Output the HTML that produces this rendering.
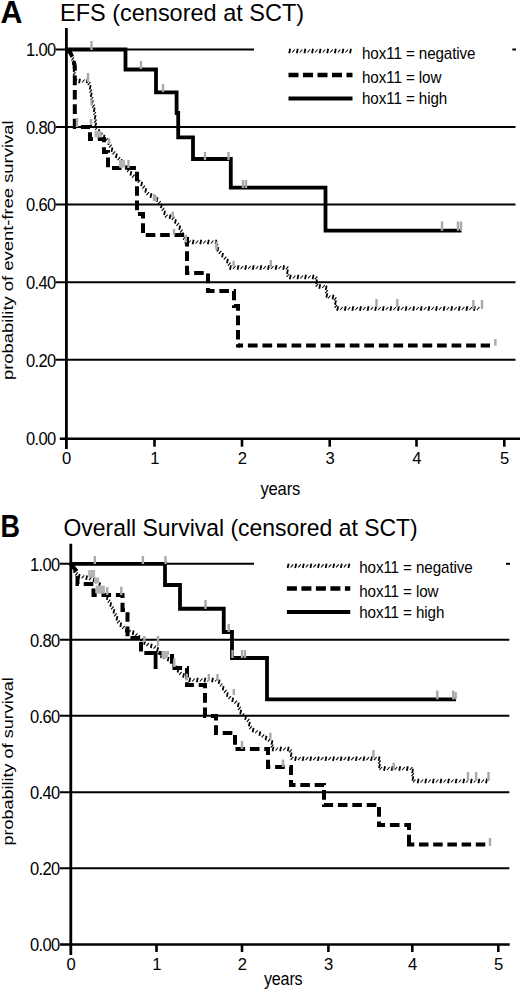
<!DOCTYPE html>
<html><head><meta charset="utf-8"><style>
html,body{margin:0;padding:0;background:#fff;}
body{width:520px;height:989px;overflow:hidden;}
svg{display:block;}
text{font-family:"Liberation Sans", sans-serif;fill:#000;}
</style></head><body>
<svg width="520" height="989" viewBox="0 0 520 989">
<rect width="520" height="989" fill="#fff"/>
<line x1="55.6" y1="49.5" x2="254" y2="49.5" stroke="#000" stroke-width="2"/>
<line x1="512.3" y1="49.5" x2="516" y2="49.5" stroke="#000" stroke-width="2"/>
<line x1="55.6" y1="127" x2="515.5" y2="127" stroke="#000" stroke-width="2"/>
<line x1="55.6" y1="204.5" x2="515.5" y2="204.5" stroke="#000" stroke-width="2"/>
<line x1="55.6" y1="282.3" x2="515.5" y2="282.3" stroke="#000" stroke-width="2"/>
<line x1="55.6" y1="359.7" x2="515.5" y2="359.7" stroke="#000" stroke-width="2"/>
<line x1="59.8" y1="438.7" x2="520" y2="438.7" stroke="#000" stroke-width="2.6"/>
<line x1="66.4" y1="28" x2="66.4" y2="449" stroke="#000" stroke-width="2.8"/>
<line x1="154.5" y1="438.7" x2="154.5" y2="446.7" stroke="#000" stroke-width="2.6"/>
<line x1="242" y1="438.7" x2="242" y2="446.7" stroke="#000" stroke-width="2.6"/>
<line x1="329.7" y1="438.7" x2="329.7" y2="446.7" stroke="#000" stroke-width="2.6"/>
<line x1="416.5" y1="438.7" x2="416.5" y2="446.7" stroke="#000" stroke-width="2.6"/>
<line x1="504.3" y1="438.7" x2="504.3" y2="446.7" stroke="#000" stroke-width="2.6"/>
<text transform="translate(55.6,56.4) scale(1,1.09)" font-size="16.5" text-anchor="end" letter-spacing="-0.6">1.00</text>
<text transform="translate(55.6,133.9) scale(1,1.09)" font-size="16.5" text-anchor="end" letter-spacing="-0.6">0.80</text>
<text transform="translate(55.6,211.4) scale(1,1.09)" font-size="16.5" text-anchor="end" letter-spacing="-0.6">0.60</text>
<text transform="translate(55.6,289.2) scale(1,1.09)" font-size="16.5" text-anchor="end" letter-spacing="-0.6">0.40</text>
<text transform="translate(55.6,366.6) scale(1,1.09)" font-size="16.5" text-anchor="end" letter-spacing="-0.6">0.20</text>
<text transform="translate(55.6,444.7) scale(1,1.09)" font-size="16.5" text-anchor="end" letter-spacing="-0.6">0.00</text>
<text transform="translate(66.7,464.2)" font-size="16.6" text-anchor="middle">0</text>
<text transform="translate(154.8,464.2)" font-size="16.6" text-anchor="middle">1</text>
<text transform="translate(242.3,464.2)" font-size="16.6" text-anchor="middle">2</text>
<text transform="translate(330,464.2)" font-size="16.6" text-anchor="middle">3</text>
<text transform="translate(416.8,464.2)" font-size="16.6" text-anchor="middle">4</text>
<text transform="translate(504.6,464.2)" font-size="16.6" text-anchor="middle">5</text>
<text transform="translate(260.5,494.9) scale(1,1.08)" font-size="16.6" letter-spacing="-0.2">years</text>
<text transform="translate(12.5,250.3) rotate(-90) scale(1.203,1)" text-anchor="middle" font-size="15.3">probability of event-free survival</text>
<text transform="translate(0.5,22.9) scale(0.95,1)" font-size="32" font-weight="bold">A</text>
<text transform="translate(60,21.2) scale(1,1.05)" font-size="23.5">EFS (censored at SCT)</text>
<polyline points="66.4,49.5 125.5,49.5 125.5,69.5 156,69.5 156,92.3 176.6,92.3 176.6,113 178.2,113 178.2,137.3 193,137.3 193,159 230.8,159 230.8,187.7 325.5,187.7 325.5,230.7 461.5,230.7" fill="none" stroke="#000" stroke-width="3.8" stroke-linejoin="miter" stroke-linecap="butt"/>
<polyline points="66.4,49.5 70,52 72.8,58 74.8,66 74.8,127 90,127 90,139 104,139 104,152 108,152 108,168 137,168 137,214 143,214 143,235 187,235 187,273 208,273 208,291 234,291 234,306 238,306 238,345.5 240,345.5" fill="none" stroke="#000" stroke-width="4" stroke-dasharray="9.6 4.8" stroke-dashoffset="0.00" stroke-linejoin="miter" stroke-linecap="butt"/>
<polyline points="238,345.5 490,345.5" fill="none" stroke="#000" stroke-width="4" stroke-dasharray="9.7 4.85" stroke-dashoffset="4.65" stroke-linejoin="miter" stroke-linecap="butt"/>
<path d="M68.42,53.35L71.02,50.35M71.34,60.27L73.94,57.27M72.71,67.74L75.31,64.74M72.98,75.34L75.58,72.34M74.53,82.03L77.13,79.03M82.04,82.50L84.64,79.50M87.79,85.23L90.39,82.23M89.43,92.60L92.03,89.60M90.41,100.14L93.01,97.14M92.13,107.52L94.73,104.52M93.39,115.00L95.99,112.00M94.06,122.57L96.66,119.57M95.10,130.00L97.70,127.00M100.00,135.80L102.60,132.80M105.37,141.17L107.97,138.17M109.07,147.71L111.67,144.71M112.52,154.42L115.12,151.42M117.57,160.11L120.17,157.11M122.40,165.97L125.00,162.97M127.09,171.95L129.69,168.95M132.03,177.72L134.63,174.72M137.69,182.78L140.29,179.78M142.36,188.68L144.96,185.68M146.44,195.09L149.04,192.09M153.07,198.68L155.67,195.68M158.06,204.20L160.66,201.20M161.67,210.84L164.27,207.84M164.98,217.55L167.58,214.55M171.81,219.92L174.41,216.92M176.47,225.92L179.07,222.92M179.91,232.65L182.51,229.65M182.97,239.61L185.57,236.61M188.04,243.50L190.64,240.50M195.64,243.50L198.24,240.50M203.24,243.50L205.84,240.50M210.84,243.50L213.44,240.50M215.61,247.13L218.21,244.13M218.74,253.83L221.34,250.83M223.74,259.55L226.34,256.55M227.97,265.73L230.57,262.73M232.95,269.00L235.55,266.00M240.55,269.00L243.15,266.00M248.15,269.00L250.75,266.00M255.75,269.00L258.35,266.00M263.35,269.00L265.95,266.00M270.95,269.00L273.55,266.00M278.55,269.00L281.15,266.00M285.75,269.45L288.35,266.45M286.54,277.00L289.14,274.00M292.80,278.50L295.40,275.50M300.40,278.50L303.00,275.50M308.00,278.50L310.60,275.50M314.79,279.39L317.39,276.39M315.59,286.95L318.19,283.95M322.24,288.00L324.84,285.00M325.19,293.12L327.79,290.12M327.90,298.50L330.50,295.50M333.86,300.29L336.46,297.29M334.51,307.86L337.11,304.86M340.15,310.00L342.75,307.00M347.75,310.00L350.35,307.00M355.35,310.00L357.95,307.00M362.95,310.00L365.55,307.00M370.55,310.00L373.15,307.00M378.15,310.00L380.75,307.00M385.75,310.00L388.35,307.00M393.35,310.00L395.95,307.00M400.95,310.00L403.55,307.00M408.55,310.00L411.15,307.00M416.15,310.00L418.75,307.00M423.75,310.00L426.35,307.00M431.35,310.00L433.95,307.00M438.95,310.00L441.55,307.00M446.55,310.00L449.15,307.00M454.15,310.00L456.75,307.00M461.75,310.00L464.35,307.00M469.35,310.00L471.95,307.00M476.95,310.00L479.55,307.00" fill="none" stroke="#000" stroke-width="1.1"/>
<path d="M65.90,52.20L66.90,47.80M70.84,57.41L71.84,53.01M72.84,64.70L73.84,60.30M73.64,72.24L74.64,67.84M73.92,79.83L74.92,75.43M79.04,83.20L80.04,78.80M86.64,83.20L87.64,78.80M89.69,89.54L90.69,85.14M90.73,97.07L91.73,92.67M91.89,104.57L92.89,100.17M93.72,111.93L94.72,107.53M94.59,119.48L95.59,115.08M95.19,127.05L96.19,122.65M98.27,133.66L99.27,129.26M103.48,139.18L104.48,134.78M108.29,144.95L109.29,140.55M111.44,151.87L112.44,147.47M115.85,157.96L116.85,153.56M120.87,163.67L121.87,159.27M125.53,169.67L126.53,165.27M130.36,175.54L131.36,171.14M135.61,181.01L136.61,176.61M141.12,186.17L142.12,181.77M145.20,192.59L146.20,188.19M150.47,197.68L151.47,193.28M156.65,201.80L157.65,197.40M160.90,208.08L161.90,203.68M164.05,215.00L165.05,210.60M169.53,218.87L170.53,214.47M174.94,223.62L175.94,219.22M179.21,229.86L180.21,225.46M182.23,236.83L183.23,232.43M185.31,243.78L186.31,239.38M192.64,244.20L193.64,239.80M200.24,244.20L201.24,239.80M207.84,244.20L208.84,239.80M215.44,244.20L216.44,239.80M217.33,251.51L218.33,247.11M222.04,257.39L223.04,252.99M226.91,263.22L227.91,258.82M229.95,269.70L230.95,265.30M237.55,269.70L238.55,265.30M245.15,269.70L246.15,265.30M252.75,269.70L253.75,265.30M260.35,269.70L261.35,265.30M267.95,269.70L268.95,265.30M275.55,269.70L276.55,265.30M283.15,269.70L284.15,265.30M286.94,273.93L287.94,269.53M289.80,279.20L290.80,274.80M297.40,279.20L298.40,274.80M305.00,279.20L306.00,274.80M312.60,279.20L313.60,274.80M315.99,283.87L316.99,279.47M319.24,288.70L320.24,284.30M325.63,290.04L326.63,285.64M326.35,297.60L327.35,293.20M332.50,299.20L333.50,294.80M334.98,304.77L335.98,300.37M337.15,310.70L338.15,306.30M344.75,310.70L345.75,306.30M352.35,310.70L353.35,306.30M359.95,310.70L360.95,306.30M367.55,310.70L368.55,306.30M375.15,310.70L376.15,306.30M382.75,310.70L383.75,306.30M390.35,310.70L391.35,306.30M397.95,310.70L398.95,306.30M405.55,310.70L406.55,306.30M413.15,310.70L414.15,306.30M420.75,310.70L421.75,306.30M428.35,310.70L429.35,306.30M435.95,310.70L436.95,306.30M443.55,310.70L444.55,306.30M451.15,310.70L452.15,306.30M458.75,310.70L459.75,306.30M466.35,310.70L467.35,306.30M473.95,310.70L474.95,306.30" fill="none" stroke="#000" stroke-width="1.8"/>
<line x1="91.5" y1="41" x2="91.5" y2="50" stroke="#a8a8a8" stroke-width="2.4"/>
<line x1="141" y1="61" x2="141" y2="69" stroke="#a8a8a8" stroke-width="2.4"/>
<line x1="163" y1="84" x2="163" y2="92" stroke="#a8a8a8" stroke-width="2.4"/>
<line x1="205" y1="152" x2="205" y2="160" stroke="#a8a8a8" stroke-width="2.4"/>
<line x1="228.5" y1="152" x2="228.5" y2="160" stroke="#a8a8a8" stroke-width="2.4"/>
<line x1="243" y1="180" x2="243" y2="188" stroke="#a8a8a8" stroke-width="2.4"/>
<line x1="246" y1="180" x2="246" y2="188" stroke="#a8a8a8" stroke-width="2.4"/>
<line x1="442" y1="221.5" x2="442" y2="230.7" stroke="#a8a8a8" stroke-width="2.4"/>
<line x1="458" y1="221.5" x2="458" y2="230.7" stroke="#a8a8a8" stroke-width="2.4"/>
<line x1="461" y1="221.5" x2="461" y2="230.7" stroke="#a8a8a8" stroke-width="2.4"/>
<line x1="77" y1="118" x2="77" y2="127" stroke="#a8a8a8" stroke-width="2.4"/>
<line x1="121.5" y1="160" x2="121.5" y2="168" stroke="#a8a8a8" stroke-width="2.4"/>
<line x1="128.5" y1="160" x2="128.5" y2="168" stroke="#a8a8a8" stroke-width="2.4"/>
<line x1="495.4" y1="339" x2="495.4" y2="345.7" stroke="#a8a8a8" stroke-width="2.4"/>
<line x1="88" y1="73" x2="88" y2="82" stroke="#a8a8a8" stroke-width="2.4"/>
<line x1="91.5" y1="98.5" x2="91.5" y2="105.6" stroke="#a8a8a8" stroke-width="2.4"/>
<line x1="91" y1="119" x2="91" y2="125" stroke="#a8a8a8" stroke-width="2.4"/>
<rect x="94.5" y="130.8" width="7" height="6.7" fill="#b4b4b4"/>
<line x1="109" y1="138.5" x2="109" y2="144" stroke="#a8a8a8" stroke-width="2.4"/>
<rect x="119" y="160" width="6" height="7.5" fill="#b4b4b4"/>
<line x1="154" y1="194" x2="154" y2="201" stroke="#a8a8a8" stroke-width="2.4"/>
<line x1="156" y1="196" x2="156" y2="201" stroke="#a8a8a8" stroke-width="2.4"/>
<line x1="172.7" y1="211.7" x2="172.7" y2="217.5" stroke="#a8a8a8" stroke-width="2.4"/>
<line x1="174" y1="229" x2="174" y2="235" stroke="#a8a8a8" stroke-width="2.4"/>
<line x1="185.8" y1="234.8" x2="185.8" y2="242.5" stroke="#a8a8a8" stroke-width="2.4"/>
<line x1="216.5" y1="241.5" x2="216.5" y2="250" stroke="#a8a8a8" stroke-width="2.4"/>
<line x1="233.6" y1="260.8" x2="233.6" y2="266.6" stroke="#a8a8a8" stroke-width="2.4"/>
<line x1="270.8" y1="260" x2="270.8" y2="267" stroke="#a8a8a8" stroke-width="2.4"/>
<line x1="376.5" y1="299" x2="376.5" y2="307" stroke="#a8a8a8" stroke-width="2.4"/>
<line x1="397.3" y1="299" x2="397.3" y2="307" stroke="#a8a8a8" stroke-width="2.4"/>
<line x1="473.4" y1="300" x2="473.4" y2="309" stroke="#a8a8a8" stroke-width="2.4"/>
<line x1="482" y1="300" x2="482" y2="309" stroke="#a8a8a8" stroke-width="2.4"/>
<path d="M292.20,52.50L294.80,49.50M299.80,52.50L302.40,49.50M307.40,52.50L310.00,49.50M315.00,52.50L317.60,49.50M322.60,52.50L325.20,49.50M330.20,52.50L332.80,49.50M337.80,52.50L340.40,49.50M345.40,52.50L348.00,49.50" fill="none" stroke="#000" stroke-width="1.1"/>
<path d="M289.20,53.20L290.20,48.80M296.80,53.20L297.80,48.80M304.40,53.20L305.40,48.80M312.00,53.20L313.00,48.80M319.60,53.20L320.60,48.80M327.20,53.20L328.20,48.80M334.80,53.20L335.80,48.80M342.40,53.20L343.40,48.80M350.00,53.20L351.00,48.80" fill="none" stroke="#000" stroke-width="1.8"/>
<line x1="288.5" y1="75" x2="352.5" y2="75" stroke="#000" stroke-width="4.4" stroke-dasharray="10 4.5"/>
<line x1="288.5" y1="98.5" x2="352.5" y2="98.5" stroke="#000" stroke-width="4"/>
<text transform="translate(362,59) scale(1,1.06)" font-size="15.2" letter-spacing="-0.1">hox11 = negative</text>
<text transform="translate(362,82.7) scale(1,1.06)" font-size="15.2" letter-spacing="-0.1">hox11 = low</text>
<text transform="translate(362,104.4) scale(1,1.06)" font-size="15.2" letter-spacing="-0.1">hox11 = high</text>
<line x1="60" y1="563.8" x2="254" y2="563.8" stroke="#000" stroke-width="2"/>
<line x1="506" y1="563.8" x2="510" y2="563.8" stroke="#000" stroke-width="2"/>
<line x1="60" y1="639.8" x2="509.3" y2="639.8" stroke="#000" stroke-width="2"/>
<line x1="60" y1="715.8" x2="509.3" y2="715.8" stroke="#000" stroke-width="2"/>
<line x1="60" y1="792.2" x2="509.3" y2="792.2" stroke="#000" stroke-width="2"/>
<line x1="60" y1="868.3" x2="509.3" y2="868.3" stroke="#000" stroke-width="2"/>
<line x1="60" y1="944.5" x2="509.7" y2="944.5" stroke="#000" stroke-width="2.6"/>
<line x1="70.8" y1="543.7" x2="70.8" y2="955" stroke="#000" stroke-width="2.8"/>
<line x1="156.5" y1="944.5" x2="156.5" y2="952.0" stroke="#000" stroke-width="2.6"/>
<line x1="242" y1="944.5" x2="242" y2="952.0" stroke="#000" stroke-width="2.6"/>
<line x1="328.4" y1="944.5" x2="328.4" y2="952.0" stroke="#000" stroke-width="2.6"/>
<line x1="412.3" y1="944.5" x2="412.3" y2="952.0" stroke="#000" stroke-width="2.6"/>
<line x1="498.3" y1="944.5" x2="498.3" y2="952.0" stroke="#000" stroke-width="2.6"/>
<text transform="translate(59.6,570.7) scale(1,1.09)" font-size="16.5" text-anchor="end" letter-spacing="-0.6">1.00</text>
<text transform="translate(59.6,646.7) scale(1,1.09)" font-size="16.5" text-anchor="end" letter-spacing="-0.6">0.80</text>
<text transform="translate(59.6,722.7) scale(1,1.09)" font-size="16.5" text-anchor="end" letter-spacing="-0.6">0.60</text>
<text transform="translate(59.6,799.1) scale(1,1.09)" font-size="16.5" text-anchor="end" letter-spacing="-0.6">0.40</text>
<text transform="translate(59.6,875.2) scale(1,1.09)" font-size="16.5" text-anchor="end" letter-spacing="-0.6">0.20</text>
<text transform="translate(59.6,951.4) scale(1,1.09)" font-size="16.5" text-anchor="end" letter-spacing="-0.6">0.00</text>
<text transform="translate(71.1,969.6)" font-size="16.6" text-anchor="middle">0</text>
<text transform="translate(156.8,969.6)" font-size="16.6" text-anchor="middle">1</text>
<text transform="translate(242.3,969.6)" font-size="16.6" text-anchor="middle">2</text>
<text transform="translate(328.7,969.6)" font-size="16.6" text-anchor="middle">3</text>
<text transform="translate(412.6,969.6)" font-size="16.6" text-anchor="middle">4</text>
<text transform="translate(498.6,969.6)" font-size="16.6" text-anchor="middle">5</text>
<text transform="translate(263.9,985) scale(1,1.08)" font-size="16.2" letter-spacing="-0.2">years</text>
<text transform="translate(12.5,761.4) rotate(-90) scale(1.18,1)" text-anchor="middle" font-size="15.3">probability of survival</text>
<text transform="translate(0.5,537.3) scale(0.87,1)" font-size="31" font-weight="bold">B</text>
<text transform="translate(63.5,536) scale(0.976,1.05)" font-size="23.5">Overall Survival (censored at SCT)</text>
<polyline points="70.8,563.8 165,563.8 165,585 180,585 180,608.75 223.75,608.75 223.75,632 232,632 232,658 267,658 267,699.3 456,699.3" fill="none" stroke="#000" stroke-width="3.8" stroke-linejoin="miter" stroke-linecap="butt"/>
<polyline points="70.8,563.8 74,568 77.5,572 77.5,584 93.5,584 93.5,595 122.5,595 122.5,610 127.5,610 127.5,638 141,638 141,653 172,653 172,668 187,668 187,685 205,685 205,716 216,716 216,733 235,733 235,749 268,749 268,767 291,767 291,785 324,785 324,805 379,805 379,825 409,825 409,844.5" fill="none" stroke="#000" stroke-width="4" stroke-dasharray="9.6 4.8" stroke-dashoffset="0.00" stroke-linejoin="miter" stroke-linecap="butt"/>
<polyline points="407,844.5 486,844.5" fill="none" stroke="#000" stroke-width="4" stroke-dasharray="9.5 4.7" stroke-dashoffset="2.20" stroke-linejoin="miter" stroke-linecap="butt"/>
<path d="M71.29,568.85L73.89,565.85M75.25,575.33L77.85,572.33M81.59,578.48L84.19,575.48M89.00,580.16L91.60,577.16M95.62,583.42L98.22,580.42M100.37,589.28L102.97,586.28M104.28,595.79L106.88,592.79M107.73,602.56L110.33,599.56M111.09,609.38L113.69,606.38M114.13,616.34L116.73,613.34M117.18,623.31L119.78,620.31M122.15,628.95L124.75,625.95M128.18,633.21L130.78,630.21M134.88,636.41L137.48,633.41M140.60,641.42L143.20,638.42M146.41,646.12L149.01,643.12M153.55,648.72L156.15,645.72M157.79,654.38L160.39,651.38M163.44,658.87L166.04,655.87M169.80,662.82L172.40,659.82M174.57,668.72L177.17,665.72M179.11,674.79L181.71,671.79M185.34,679.15L187.94,676.15M192.20,681.50L194.80,678.50M199.80,681.50L202.40,678.50M207.40,681.50L210.00,678.50M215.00,681.50L217.60,678.50M219.83,686.50L222.43,683.50M223.95,692.88L226.55,689.88M228.37,699.02L230.97,696.02M234.37,703.69L236.97,700.69M238.17,709.91L240.77,706.91M241.65,716.45L244.25,713.45M246.84,721.93L249.44,718.93M249.25,729.14L251.85,726.14M255.22,733.26L257.82,730.26M261.63,737.31L264.23,734.31M267.88,741.62L270.48,738.62M270.70,747.71L273.30,744.71M275.51,750.50L278.11,747.50M283.11,750.50L285.71,747.50M289.11,752.47L291.71,749.47M290.64,759.92L293.24,756.92M298.01,760.20L300.61,757.20M305.61,760.20L308.21,757.20M313.21,760.20L315.81,757.20M320.81,760.20L323.41,757.20M328.41,760.20L331.01,757.20M336.01,760.20L338.61,757.20M343.61,760.20L346.21,757.20M351.21,760.20L353.81,757.20M358.81,760.20L361.41,757.20M366.41,760.20L369.01,757.20M374.01,760.20L376.61,757.20M378.20,763.61L380.80,760.61M379.41,770.00L382.01,767.00M387.01,770.00L389.61,767.00M394.61,770.00L397.21,767.00M402.21,770.00L404.81,767.00M409.81,770.00L412.41,767.00M411.45,776.20L414.05,773.20M413.00,782.50L415.60,779.50M420.60,782.50L423.20,779.50M428.20,782.50L430.80,779.50M435.80,782.50L438.40,779.50M443.40,782.50L446.00,779.50M451.00,782.50L453.60,779.50M458.60,782.50L461.20,779.50M466.20,782.50L468.80,779.50M473.80,782.50L476.40,779.50M481.40,782.50L484.00,779.50" fill="none" stroke="#000" stroke-width="1.1"/>
<path d="M70.30,566.20L71.30,561.80M73.94,572.87L74.94,568.47M78.67,578.43L79.67,574.03M86.12,579.92L87.12,575.52M93.45,581.90L94.45,577.50M99.10,586.80L100.10,582.40M103.12,593.24L104.12,588.84M106.83,599.86L107.83,595.46M110.23,606.66L111.23,602.26M113.41,613.56L114.41,609.16M116.45,620.52L117.45,616.12M120.27,626.97L121.27,622.57M125.64,632.34L126.64,627.94M132.64,634.95L133.64,630.55M138.54,639.61L139.54,635.21M144.10,644.80L145.10,640.40M150.78,648.12L151.78,643.72M157.10,651.59L158.10,647.19M160.84,657.87L161.84,653.47M167.64,661.27L168.64,656.87M173.03,666.44L174.03,662.04M177.58,672.52L178.58,668.12M183.03,677.67L184.03,673.27M189.25,682.03L190.25,677.63M196.80,682.20L197.80,677.80M204.40,682.20L205.40,677.80M212.00,682.20L213.00,677.80M218.61,683.98L219.61,679.58M222.65,690.42L223.65,686.02M226.86,696.74L227.86,692.34M232.17,702.05L233.17,697.65M237.77,707.00L238.77,702.60M240.17,714.21L241.17,709.81M245.14,719.84L246.14,715.44M248.85,726.24L249.85,721.84M252.62,732.26L253.62,727.86M259.34,735.80L260.34,731.40M265.52,740.21L266.52,735.81M271.50,744.61L272.50,740.21M272.51,751.20L273.51,746.80M280.11,751.20L281.11,746.80M287.71,751.20L288.71,746.80M290.67,756.89L291.67,752.49M295.01,760.90L296.01,756.50M302.61,760.90L303.61,756.50M310.21,760.90L311.21,756.50M317.81,760.90L318.81,756.50M325.41,760.90L326.41,756.50M333.01,760.90L334.01,756.50M340.61,760.90L341.61,756.50M348.21,760.90L349.21,756.50M355.81,760.90L356.81,756.50M363.41,760.90L364.41,756.50M371.01,760.90L372.01,756.50M378.61,760.90L379.61,756.50M379.00,768.11L380.00,763.71M384.01,770.70L385.01,766.30M391.61,770.70L392.61,766.30M399.21,770.70L400.21,766.30M406.81,770.70L407.81,766.30M412.10,773.11L413.10,768.71M412.40,780.70L413.40,776.30M417.60,783.20L418.60,778.80M425.20,783.20L426.20,778.80M432.80,783.20L433.80,778.80M440.40,783.20L441.40,778.80M448.00,783.20L449.00,778.80M455.60,783.20L456.60,778.80M463.20,783.20L464.20,778.80M470.80,783.20L471.80,778.80M478.40,783.20L479.40,778.80M486.00,783.20L487.00,778.80" fill="none" stroke="#000" stroke-width="1.8"/>
<line x1="155.6" y1="651" x2="155.6" y2="669" stroke="#000" stroke-width="3.8"/>
<line x1="94.8" y1="556" x2="94.8" y2="564" stroke="#a8a8a8" stroke-width="2.4"/>
<line x1="142.9" y1="556" x2="142.9" y2="564" stroke="#a8a8a8" stroke-width="2.4"/>
<line x1="165.5" y1="556" x2="165.5" y2="564" stroke="#a8a8a8" stroke-width="2.4"/>
<line x1="205.5" y1="600" x2="205.5" y2="609" stroke="#a8a8a8" stroke-width="2.4"/>
<line x1="228.75" y1="624" x2="228.75" y2="632" stroke="#a8a8a8" stroke-width="2.4"/>
<line x1="232.5" y1="650" x2="232.5" y2="658" stroke="#a8a8a8" stroke-width="2.4"/>
<line x1="242" y1="650" x2="242" y2="658" stroke="#a8a8a8" stroke-width="2.4"/>
<line x1="245" y1="650" x2="245" y2="658" stroke="#a8a8a8" stroke-width="2.4"/>
<line x1="437.3" y1="690.6" x2="437.3" y2="699.3" stroke="#a8a8a8" stroke-width="2.4"/>
<line x1="453.2" y1="690.6" x2="453.2" y2="699.3" stroke="#a8a8a8" stroke-width="2.4"/>
<line x1="455.6" y1="692" x2="455.6" y2="699.3" stroke="#a8a8a8" stroke-width="2.4"/>
<line x1="121.3" y1="586.7" x2="121.3" y2="595" stroke="#a8a8a8" stroke-width="2.4"/>
<line x1="242" y1="741" x2="242" y2="749" stroke="#a8a8a8" stroke-width="2.4"/>
<line x1="283" y1="759.6" x2="283" y2="767" stroke="#a8a8a8" stroke-width="2.4"/>
<line x1="490" y1="838" x2="490" y2="846" stroke="#a8a8a8" stroke-width="2.4"/>
<rect x="88.2" y="570" width="6.9" height="7.5" fill="#b4b4b4"/>
<rect x="94" y="577.5" width="5.1" height="5.8" fill="#b4b4b4"/>
<rect x="95.7" y="585.6" width="9.2" height="8" fill="#b4b4b4"/>
<line x1="107.2" y1="587" x2="107.2" y2="595" stroke="#a8a8a8" stroke-width="2.4"/>
<line x1="144.4" y1="636" x2="144.4" y2="642" stroke="#a8a8a8" stroke-width="2.4"/>
<line x1="158" y1="636" x2="158" y2="646" stroke="#a8a8a8" stroke-width="2.4"/>
<rect x="161.5" y="651" width="6.5" height="7.5" fill="#b4b4b4"/>
<line x1="174.2" y1="658.5" x2="174.2" y2="667" stroke="#a8a8a8" stroke-width="2.4"/>
<line x1="186.7" y1="673.7" x2="186.7" y2="680.4" stroke="#a8a8a8" stroke-width="2.4"/>
<line x1="208.8" y1="674" x2="208.8" y2="681" stroke="#a8a8a8" stroke-width="2.4"/>
<line x1="217.5" y1="674" x2="217.5" y2="681" stroke="#a8a8a8" stroke-width="2.4"/>
<line x1="233.8" y1="689" x2="233.8" y2="695" stroke="#a8a8a8" stroke-width="2.4"/>
<line x1="270.4" y1="732.7" x2="270.4" y2="738.5" stroke="#a8a8a8" stroke-width="2.4"/>
<line x1="373.5" y1="750" x2="373.5" y2="758" stroke="#a8a8a8" stroke-width="2.4"/>
<line x1="393.7" y1="762.7" x2="393.7" y2="769.5" stroke="#a8a8a8" stroke-width="2.4"/>
<line x1="468" y1="772" x2="468" y2="781" stroke="#a8a8a8" stroke-width="2.4"/>
<line x1="476.2" y1="772" x2="476.2" y2="781" stroke="#a8a8a8" stroke-width="2.4"/>
<line x1="488.5" y1="772" x2="488.5" y2="781" stroke="#a8a8a8" stroke-width="2.4"/>
<path d="M290.60,567.30L293.20,564.30M298.20,567.30L300.80,564.30M305.80,567.30L308.40,564.30M313.40,567.30L316.00,564.30M321.00,567.30L323.60,564.30M328.60,567.30L331.20,564.30M336.20,567.30L338.80,564.30M343.80,567.30L346.40,564.30" fill="none" stroke="#000" stroke-width="1.1"/>
<path d="M287.60,568.00L288.60,563.60M295.20,568.00L296.20,563.60M302.80,568.00L303.80,563.60M310.40,568.00L311.40,563.60M318.00,568.00L319.00,563.60M325.60,568.00L326.60,563.60M333.20,568.00L334.20,563.60M340.80,568.00L341.80,563.60M348.40,568.00L349.40,563.60" fill="none" stroke="#000" stroke-width="1.8"/>
<line x1="286.9" y1="588.5" x2="350.3" y2="588.5" stroke="#000" stroke-width="4.4" stroke-dasharray="10 4.5"/>
<line x1="286.9" y1="612" x2="350.3" y2="612" stroke="#000" stroke-width="4"/>
<text transform="translate(359.2,573.2) scale(1,1.06)" font-size="15.2" letter-spacing="-0.1">hox11 = negative</text>
<text transform="translate(359.2,596.6) scale(1,1.06)" font-size="15.2" letter-spacing="-0.1">hox11 = low</text>
<text transform="translate(359.2,618.1) scale(1,1.06)" font-size="15.2" letter-spacing="-0.1">hox11 = high</text>
</svg>
</body></html>
